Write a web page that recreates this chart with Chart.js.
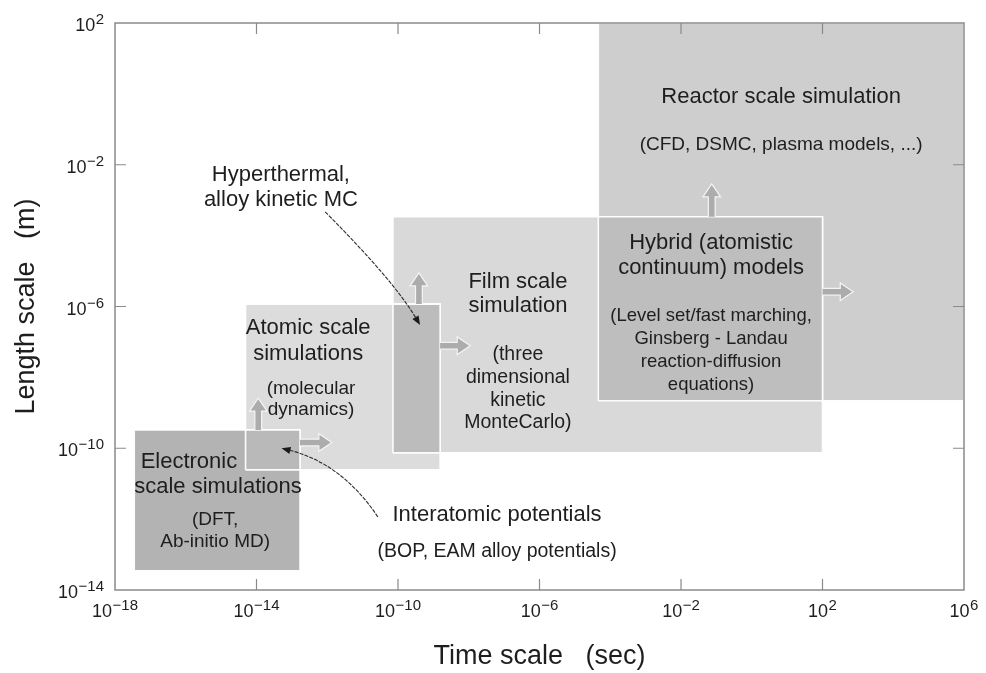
<!DOCTYPE html>
<html><head><meta charset="utf-8">
<script src="https://cdn.jsdelivr.net/npm/chart.js@4.4.1/dist/chart.umd.min.js"></script>
<style>html,body{margin:0;padding:0;background:#fff;}canvas{display:block;}</style>
</head><body>
<canvas id="c" width="986" height="673"></canvas>
<script>
// ---------- data ----------
const timeTicks   = [1e-18, 1e-14, 1e-10, 1e-6, 1e-2, 1e2, 1e6];   // sec
const lengthTicks = [1e-14, 1e-10, 1e-6, 1e-2, 1e2];              // m

// simulation regimes: [min, max] in time (s) and length (m)
const electronicTime   = [3.5e-18, 1.7e-13];
const electronicLength = [3.5e-14, 3.3e-10];
const atomicTime       = [4.9e-15, 1.55e-9];
const atomicLength     = [2.45e-11, 1.17e-6];
const filmTime         = [7.2e-11, 1e2];
const filmLength       = [7.4e-11, 3.4e-4];
const reactorTime      = [4.6e-5, 1e6];
const reactorLength    = [2.2e-9, 1e2];
// overlapping (bridging) regimes
const interatomicTime    = [4.9e-15, 1.7e-13];
const interatomicLength  = [2.45e-11, 3.3e-10];
const hyperthermalTime   = [7.2e-11, 1.55e-9];
const hyperthermalLength = [7.4e-11, 1.17e-6];
const hybridTime         = [4.6e-5, 1e2];
const hybridLength       = [2.2e-9, 3.4e-4];

// block "growth" arrows: [fromTime, fromLength, toTime, toLength]
const growthArrows = [
  [1.12e-14, 3.3e-10, 1.12e-14, 2.6e-9],
  [1.7e-13, 1.45e-10, 1.35e-12, 1.45e-10],
  [3.9e-10, 1.17e-6, 3.9e-10, 8.9e-6],
  [1.55e-9, 7.8e-8, 1.1e-8, 7.8e-8],
  [7.4e-2, 3.4e-4, 7.4e-2, 2.9e-3],
  [1e2, 2.6e-6, 7.4e2, 2.6e-6]
];
// pointer curves: [start, control, tip] as [time, length]
const pointers = [
  [[8.7e-13, 4.7e-4], [7.8e-11, 5.2e-6], [4.2e-10, 3.0e-7]],
  [[2.7e-11, 1.15e-12], [2.6e-12, 3.8e-11], [5.1e-14, 1.0e-10]]
];

// ---------- styling / annotation layout ----------
const FONT = "'Liberation Sans', Arial, Helvetica, sans-serif";
const TXT = '#1e1e1e';
const AX = '#8a8a8a';
// [text, log10(time), log10(length), size]
const labels = [
  ['Reactor scale simulation', 0.83, -0.09, 22],
  ['(CFD, DSMC, plasma models, ...)', 0.83, -1.44, 19],
  ['Hybrid (atomistic', -1.15, -4.21, 22],
  ['continuum) models', -1.15, -4.91, 22],
  ['(Level set/fast marching,', -1.15, -6.27, 18.5],
  ['Ginsberg - Landau', -1.15, -6.92, 18.5],
  ['reaction-diffusion', -1.15, -7.57, 18.5],
  ['equations)', -1.15, -8.21, 18.5],
  ['Film scale', -6.61, -5.31, 22],
  ['simulation', -6.61, -5.99, 22],
  ['(three', -6.61, -7.37, 19.5],
  ['dimensional', -6.61, -8.02, 19.5],
  ['kinetic', -6.61, -8.67, 19.5],
  ['MonteCarlo)', -6.61, -9.29, 19.5],
  ['Atomic scale', -12.54, -6.61, 22],
  ['simulations', -12.54, -7.34, 22],
  ['(molecular', -12.46, -8.33, 19],
  ['dynamics)', -12.46, -8.92, 19],
  ['Electronic', -15.91, -10.39, 22],
  ['scale simulations', -15.09, -11.09, 22],
  ['(DFT,', -15.17, -12.02, 19],
  ['Ab-initio MD)', -15.17, -12.64, 19],
  ['Hyperthermal,', -13.31, -2.29, 22],
  ['alloy kinetic MC', -13.31, -2.99, 22],
  ['Interatomic potentials', -7.20, -11.88, 22],
  ['(BOP, EAM alloy potentials)', -7.20, -12.93, 19.5]
];

function rect(t, l) {
  return [{x:t[0],y:l[0]},{x:t[1],y:l[0]},{x:t[1],y:l[1]},{x:t[0],y:l[1]},{x:t[0],y:l[0]}];
}
function box(label, t, l, color, order) {
  return {label, data: rect(t, l), fill: 'shape', backgroundColor: color,
    borderColor: 'rgba(255,255,255,0.95)', borderWidth: 1.6, pointRadius: 0,
    pointHoverRadius: 0, tension: 0, order};
}

function blockArrow(ctx, x0, y0, x1, y1) {
  const L = Math.hypot(x1 - x0, y1 - y0), a = Math.atan2(y1 - y0, x1 - x0);
  const sw = 3.4, hw = 8.8, hl = 13;
  ctx.save(); ctx.translate(x0, y0); ctx.rotate(a);
  ctx.beginPath();
  ctx.moveTo(0, -sw); ctx.lineTo(L - hl, -sw); ctx.lineTo(L - hl, -hw); ctx.lineTo(L, 0);
  ctx.lineTo(L - hl, hw); ctx.lineTo(L - hl, sw); ctx.lineTo(0, sw);
  ctx.fillStyle = '#acacac'; ctx.fill();
  ctx.strokeStyle = '#f4f4f4'; ctx.lineWidth = 1.2; ctx.lineJoin = 'miter'; ctx.stroke();
  ctx.restore();
}

function supLabel(ctx, v, x, y, align) {
  const e = Math.round(Math.log10(v));
  const es = (e < 0 ? '\u2212' : '') + Math.abs(e);
  ctx.font = '18px ' + FONT; const w1 = ctx.measureText('10').width;
  ctx.font = '15px ' + FONT; const w2 = ctx.measureText(es).width;
  const tot = w1 + w2 + 0.5;
  let sx = align === 'center' ? x - tot / 2 : x - tot;
  ctx.textAlign = 'left'; ctx.textBaseline = 'alphabetic'; ctx.fillStyle = TXT;
  ctx.font = '18px ' + FONT; ctx.fillText('10', sx, y);
  ctx.font = '15px ' + FONT; ctx.fillText(es, sx + w1 + 0.5, y - 7);
}

const decor = {
  id: 'decor',
  afterDatasetsDraw(chart) {
    const ctx = chart.ctx, xs = chart.scales.x, ys = chart.scales.y, ca = chart.chartArea;
    const P = (t, l) => [xs.getPixelForValue(t), ys.getPixelForValue(l)];
    ctx.save();
    // growth arrows
    growthArrows.forEach(a => { const p0 = P(a[0], a[1]), p1 = P(a[2], a[3]); blockArrow(ctx, p0[0], p0[1], p1[0], p1[1]); });
    // pointer curves
    pointers.forEach(p => {
      const s = P(...p[0]), c = P(...p[1]), e = P(...p[2]);
      const ang = Math.atan2(e[1] - c[1], e[0] - c[0]);
      const hl = 9, hw = 3.6;
      const eb = [e[0] - Math.cos(ang) * hl * 0.8, e[1] - Math.sin(ang) * hl * 0.8];
      ctx.setLineDash([4, 1.2]); ctx.strokeStyle = '#2e2e2e'; ctx.lineWidth = 1.1;
      ctx.beginPath(); ctx.moveTo(s[0], s[1]); ctx.quadraticCurveTo(c[0], c[1], eb[0], eb[1]); ctx.stroke();
      ctx.setLineDash([]);
      ctx.save(); ctx.translate(e[0], e[1]); ctx.rotate(ang);
      ctx.beginPath(); ctx.moveTo(0, 0); ctx.lineTo(-hl, -hw); ctx.lineTo(-hl, hw); ctx.closePath();
      ctx.fillStyle = '#1a1a1a'; ctx.fill(); ctx.restore();
    });
    // annotation texts
    ctx.fillStyle = TXT; ctx.textAlign = 'center'; ctx.textBaseline = 'middle';
    labels.forEach(([t, lx, ly, sz]) => {
      ctx.font = sz + 'px ' + FONT;
      const p = P(Math.pow(10, lx), Math.pow(10, ly));
      ctx.fillText(t, p[0], p[1]);
    });
    // frame
    ctx.strokeStyle = AX; ctx.lineWidth = 1.5;
    ctx.strokeRect(ca.left, ca.top, ca.right - ca.left, ca.bottom - ca.top);
    // inward ticks on all four sides
    const tl = 11; ctx.lineWidth = 1.2; ctx.beginPath();
    xs.ticks.forEach(tk => {
      const x = xs.getPixelForValue(tk.value);
      if (x <= ca.left + 1 || x >= ca.right - 1) return;
      ctx.moveTo(x, ca.bottom); ctx.lineTo(x, ca.bottom - tl);
      ctx.moveTo(x, ca.top); ctx.lineTo(x, ca.top + tl);
    });
    ys.ticks.forEach(tk => {
      const y = ys.getPixelForValue(tk.value);
      if (y <= ca.top + 1 || y >= ca.bottom - 1) return;
      ctx.moveTo(ca.left, y); ctx.lineTo(ca.left + tl, y);
      ctx.moveTo(ca.right, y); ctx.lineTo(ca.right - tl, y);
    });
    ctx.stroke();
    // tick labels (10 with superscript exponent)
    xs.ticks.forEach(tk => supLabel(ctx, tk.value, xs.getPixelForValue(tk.value), ca.bottom + 26.5, 'center'));
    ys.ticks.forEach(tk => supLabel(ctx, tk.value, ca.left - 11, ys.getPixelForValue(tk.value) + 8, 'right'));
    ctx.restore();
  }
};

new Chart(document.getElementById('c'), {
  type: 'line',
  data: {
    datasets: [
      box('Interatomic potentials', interatomicTime, interatomicLength, '#b9b9b9', 0),
      box('Hyperthermal, alloy kinetic MC', hyperthermalTime, hyperthermalLength, '#bcbcbc', 0),
      box('Hybrid (atomistic continuum) models', hybridTime, hybridLength, '#bebebe', 0),
      box('Electronic scale simulations', electronicTime, electronicLength, '#b3b3b3', 1),
      box('Atomic scale simulations', atomicTime, atomicLength, '#dcdcdc', 2),
      box('Film scale simulation', filmTime, filmLength, '#d9d9d9', 3),
      box('Reactor scale simulation', reactorTime, reactorLength, '#cecece', 4)
    ]
  },
  options: {
    responsive: false, animation: false, devicePixelRatio: 1,
    layout: {padding: {left: 0, right: 22, top: 23, bottom: 0}},
    plugins: {legend: {display: false}, tooltip: {enabled: false}},
    events: [],
    scales: {
      x: {
        type: 'logarithmic', position: 'bottom', min: 1e-18, max: 1e6,
        afterBuildTicks: s => { s.ticks = timeTicks.map(v => ({value: v})); },
        afterFit: s => { s.height = 83; },
        grid: {display: false}, border: {display: false}, ticks: {display: false},
        title: {display: true, text: 'Time scale   (sec)', color: TXT,
          font: {family: FONT, size: 27}, padding: {top: 0, bottom: 0}}
      },
      y: {
        type: 'logarithmic', position: 'left', min: 1e-14, max: 1e2,
        afterBuildTicks: s => { s.ticks = lengthTicks.map(v => ({value: v})); },
        afterFit: s => { s.width = 115; },
        grid: {display: false}, border: {display: false}, ticks: {display: false},
        title: {display: true, text: 'Length scale   (m)', color: TXT,
          font: {family: FONT, size: 27}, padding: {top: 10, bottom: 0}}
      }
    }
  },
  plugins: [decor]
});
</script>
</body></html>
